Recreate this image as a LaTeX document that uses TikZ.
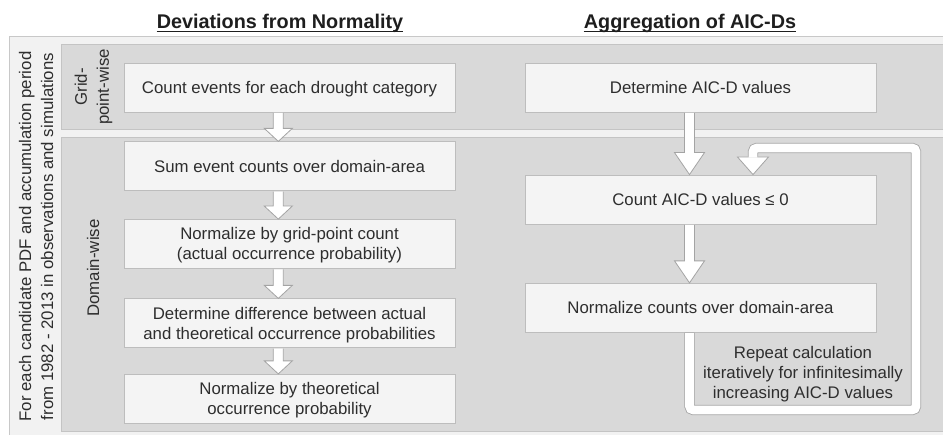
\documentclass[tikz,border=0pt]{standalone}
\usepackage{fontspec}
\setmainfont{Liberation Sans}
\usetikzlibrary{calc}
\definecolor{panel}{HTML}{F2F2F2}
\definecolor{panelline}{HTML}{C8C8C8}
\definecolor{band}{HTML}{D9D9D9}
\definecolor{bandline}{HTML}{C4C4C4}
\definecolor{boxfill}{HTML}{F4F4F4}
\definecolor{boxline}{HTML}{BDBDBD}
\definecolor{txt}{HTML}{2E2E2E}
\definecolor{titlecol}{HTML}{1E1E1E}
\definecolor{arrline}{HTML}{A4A4A4}
\newcommand\barrow[5]{%
  \draw[arrowsty] let \p1=(#1.south -| #3), \p2=(#2.north -| #3) in
   (\x1-5pt,\y1-0.4pt) -- (\x1-5pt,\y2+#4) -- (\x1-#5,\y2+#4) -- (\x2,\y2)
   -- (\x1+#5,\y2+#4) -- (\x1+5pt,\y2+#4) -- (\x1+5pt,\y1-0.4pt);}
\begin{document}
\begin{tikzpicture}[x=1pt,y=-1pt,
  bodyfont/.style={font=\fontsize{16.8}{20}\selectfont, text=txt},
  stepbox/.style={bodyfont, draw=boxline, line width=0.8pt, fill=boxfill, align=center, inner sep=0pt, minimum height=49pt},
  leftbox/.style={stepbox, minimum width=331pt},
  rightbox/.style={stepbox, minimum width=351pt},
  one/.style={text height=13pt, text depth=1pt},
  two/.style={text height=33pt, text depth=1pt},
  sidelabel/.style={font=\fontsize{16.8}{22}\selectfont, text=txt, align=center, rotate=90, inner sep=0pt},
  titlesty/.style={font=\fontsize{19.8}{24}\selectfont\bfseries, text=titlecol, inner sep=0pt, anchor=base},
  arrowsty/.style={fill=white, draw=arrline, line width=0.8pt, line join=miter},
]
\useasboundingbox (0,0) rectangle (943,435);
\clip (0,0) rectangle (943,435);
\fill[white] (0,0) rectangle (943,435);
% panels
\draw[draw=panelline, fill=panel, line width=0.8pt] (9,36.5) rectangle (960,450);
\draw[draw=bandline, fill=band, line width=0.8pt] (61,44.5) rectangle (960,129);
\draw[draw=bandline, fill=band, line width=0.8pt] (61,137.5) rectangle (960,431.5);
% titles
\node[titlesty] (T1) at (280,28.7) {Deviations from Normality};
\node[titlesty] (T2) at (690,28.7) {Aggregation of AIC-Ds};
\draw[line width=1.4pt, titlecol] ([yshift=-2.6pt]T1.base west) -- ([yshift=-2.6pt]T1.base east);
\draw[line width=1.4pt, titlecol] ([yshift=-2.6pt]T2.base west) -- ([yshift=-2.6pt]T2.base east);
% side labels
\node[sidelabel] (S0) at (36,236.5) {For each candidate PDF and accumulation period\\from 1982 - 2013 in observations and simulations};
\node[sidelabel] (S1) at (93.5,87) {Grid-\\point-wise};
\node[sidelabel] (S2) at (93,268) {Domain-wise};
% left column
\node[leftbox, one] (L1) at (289.5,87.5) {Count events for each drought category};
\node[leftbox, one] (L2) at (289.5,166.3) {Sum event counts over domain-area};
\node[leftbox, two] (L3) at (289.5,244) {Normalize by grid-point count\\(actual occurrence probability)};
\node[leftbox, two] (L4) at (289.5,323.3) {Determine difference between actual\\and theoretical occurrence probabilities};
\node[leftbox, two] (L5) at (289.5,398.8) {Normalize by theoretical\\occurrence probability};
% right column
\node[rightbox, one] (R1) at (700.5,87.5) {Determine AIC-D values};
\node[rightbox, one] (R2) at (700.5,199.5) {Count AIC-D values ≤ 0};
\node[rightbox, one] (R3) at (700.5,307.8) {Normalize counts over domain-area};
% arrow axes
\coordinate (ax) at (278.3,0);
\coordinate (bx) at (689.5,0);
\coordinate (cx) at (753,0);
\barrow{L1}{L2}{ax}{13pt}{14pt}
\barrow{L2}{L3}{ax}{13pt}{14pt}
\barrow{L3}{L4}{ax}{13pt}{14pt}
\barrow{L4}{L5}{ax}{13pt}{14pt}
\barrow{R1}{R2}{bx}{22pt}{15pt}
\barrow{R2}{R3}{bx}{22pt}{15pt}
% loop
\coordinate (lp1) at (689.5,410);
\coordinate (lp2) at (916,410);
\coordinate (lp3) at (916,148);
\coordinate (lp4) at (753,148);
\coordinate (lph) at (753,157);
\draw[line width=10.4pt, arrline, rounded corners=4pt] (R3.south -| bx) -- (lp1) -- (lp2) -- (lp3) -- (lp4) -- (lph);
\draw[arrowsty] let \p1=(lph), \p2=(R2.north -| cx) in
  (\x1-15.5pt,\y1) -- (\x2,\y2) -- (\x1+15.5pt,\y1) -- cycle;
\draw[line width=8.8pt, white, rounded corners=4pt] ([yshift=-0.5pt]R3.south -| bx) -- (lp1) -- (lp2) -- (lp3) -- (lp4) -- ([yshift=-0.6pt]lph);
\node[bodyfont, align=center, inner sep=0pt] (rep) at (803,374) {Repeat calculation\\iteratively for infinitesimally\\increasing AIC-D values};
\end{tikzpicture}
\end{document}
